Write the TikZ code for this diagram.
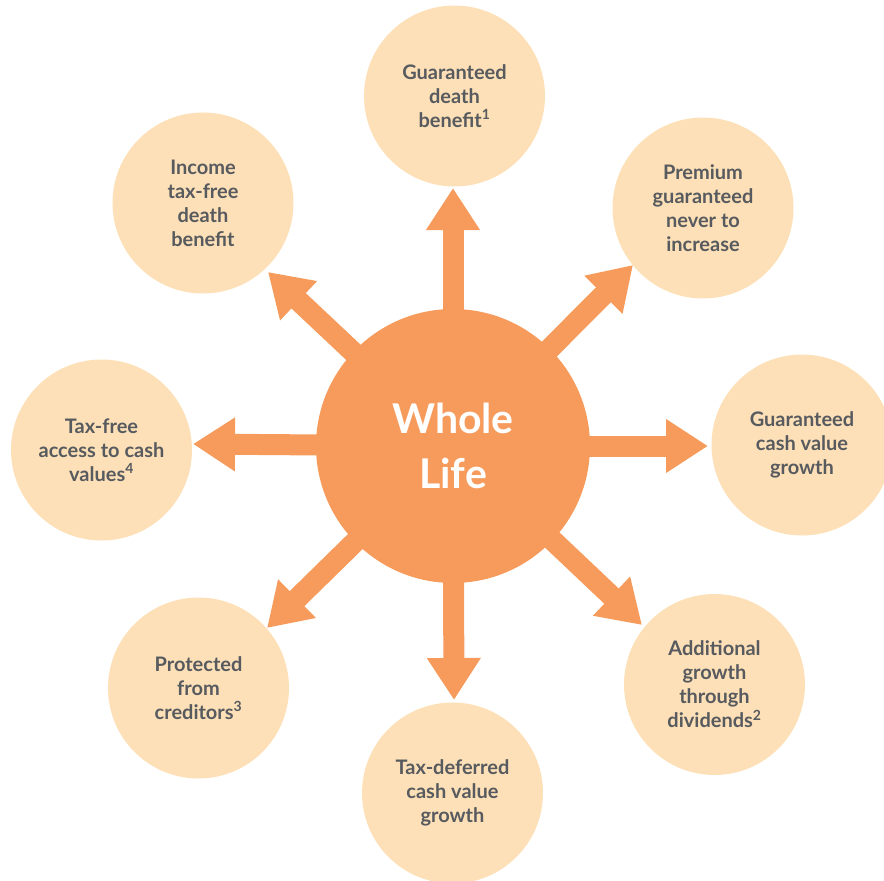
\documentclass[tikz,border=0pt]{standalone}
\usepackage{fontspec}
\setmainfont{Lato}
\usetikzlibrary{arrows.meta}
\definecolor{peach}{HTML}{FDE0B7}
\definecolor{orng}{HTML}{F69B5C}
\definecolor{txtgray}{HTML}{575A5E}
\begin{document}
\begin{tikzpicture}[x=1pt,y=-1pt,
  outer/.style={circle,fill=peach,minimum size=181pt,inner sep=0pt,text=txtgray,
    font=\bfseries\fontsize{20}{24}\selectfont,align=center},
  fat/.style={draw=orng,line width=21pt,-{Triangle[width=51pt,length=42pt]}},
  hub/.style={circle,fill=orng,minimum size=274pt,inner sep=0pt,text=white,
    font=\bfseries\fontsize{41}{55}\selectfont,align=center}]
\useasboundingbox (0,0) rectangle (884,881);
\begin{scope}
\clip (0,0) rectangle (884,881);
\node[outer] (o1) at (454.5,96) {Guaranteed\\death\\benefit\textsuperscript{1}};
\node[outer] (o2) at (703,208) {Premium\\guaranteed\\never to\\increase};
\node[outer] (o3) at (802,445) {Guaranteed\\cash value\\growth};
\node[outer] (o4) at (714.5,684.5) {Additional\\growth\\through\\dividends\textsuperscript{2}};
\node[outer] (o5) at (452.5,793) {Tax-deferred\\cash value\\growth};
\node[outer] (o6) at (198.5,688) {Protected\\from\\creditors\textsuperscript{3}};
\node[outer] (o7) at (101.5,450) {Tax-free\\access to cash\\values\textsuperscript{4}};
\node[outer] (o8) at (203,203) {Income\\tax-free\\death\\benefit};
\coordinate (cc) at (453,446);
\coordinate (t1) at (453,188);
\coordinate (t2) at (633,265);
\coordinate (t3) at (708,446);
\coordinate (t4) at (642,625);
\coordinate (t5) at (454,700);
\coordinate (t6) at (267,628);
\coordinate (t7) at (193,444);
\coordinate (t8) at (268,272);
\foreach \t in {t1,t2,t3,t4,t5,t6,t7,t8}
  \draw[fat] (cc) -- (\t);
\node[hub] (c) at (cc) {Whole\\Life};
\end{scope}
\end{tikzpicture}
\end{document}
